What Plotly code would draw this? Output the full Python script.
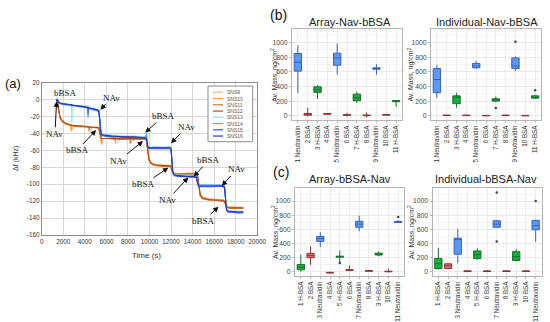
import plotly.graph_objects as go

W, H = 550, 322

# ---------------- Panel (a) data ----------------
t_orange = [1350, 1450, 1520, 1600, 1700,
            1850, 2000, 2200, 2500, 2700,
            2720, 2740, 3000, 3500, 4000,
            4380, 4400, 4420, 4800, 5200,
            5300, 5380, 5450, 5520, 5540,
            5560, 5700, 6200, 6800, 6820,
            6840, 7500, 8200, 8220, 8240,
            9000, 9650, 9720, 9800, 9880,
            9950, 10100, 10300, 10600, 11200,
            11900, 11980, 12050, 12150, 12300,
            12800, 13500, 14300, 14450, 14520,
            14600, 14700, 14900, 15500, 16300,
            16800, 16950, 17050, 17150, 17300,
            17800, 18300, 18700]

sns9 = [0, 1, -6, -16, -21,
        -24, -26, -28, -29, -30,
        -30, -38, -30, -31, -31,
        -32, -32, -36, -32, -32,
        -33, -39, -44, -45, -46,
        -54, -46, -45, -45, -45,
        -52, -45, -45, -45, -50,
        -45, -45, -47, -57, -65,
        -70, -74, -76, -77, -77,
        -78, -78, -81, -85, -87,
        -87, -87, -87, -88, -96,
        -105, -111, -115, -117, -118,
        -118, -119, -122, -126, -127,
        -127, -127, -128]
sns10 = [-1, -1, -10, -18, -22,
         -25, -27, -29, -30, -30,
         -36, -30, -31, -32, -32,
         -33, -33, -33, -33, -34,
         -34, -40, -45, -46, -52,
         -46, -46, -46, -46, -50,
         -46, -46, -46, -46, -46,
         -46, -46, -48, -58, -66,
         -71, -75, -77, -78, -78,
         -78, -79, -81, -85, -87,
         -88, -87, -87, -89, -98,
         -107, -113, -117, -118, -118,
         -119, -120, -123, -126, -127,
         -127, -128, -127]
sns11 = [-1, 0, -9, -17, -22,
         -25, -27, -28, -30, -30,
         -30, -31, -31, -32, -32,
         -32, -38, -32, -33, -33,
         -34, -40, -44, -45, -46,
         -46, -46, -46, -47, -47,
         -47, -47, -47, -52, -47,
         -47, -47, -49, -60, -68,
         -72, -75, -77, -78, -79,
         -79, -80, -83, -87, -88,
         -89, -88, -88, -90, -99,
         -108, -114, -117, -119, -119,
         -120, -121, -124, -127, -128,
         -129, -128, -129]
sns12 = [-2, 0, -8, -15, -20,
         -24, -26, -28, -29, -30,
         -30, -30, -31, -31, -32,
         -32, -32, -32, -33, -33,
         -33, -38, -43, -45, -45,
         -46, -46, -46, -46, -46,
         -46, -46, -46, -46, -46,
         -46, -46, -48, -58, -66,
         -70, -74, -76, -77, -78,
         -78, -79, -82, -86, -88,
         -88, -88, -88, -89, -97,
         -106, -112, -116, -118, -119,
         -119, -120, -123, -127, -128,
         -128, -128, -128]

t_blue = [1350, 1450, 1550, 1700, 2000,
          2500, 2780, 2800, 2820, 3200,
          3700, 4280, 4300, 4320, 4400,
          4800, 5200, 5300, 5380, 5450,
          5550, 5800, 6500, 7500, 8500,
          9400, 9650, 9720, 9780, 9850,
          10000, 10500, 11200, 11900, 12000,
          12080, 12150, 12300, 12800, 13500,
          14200, 14350, 14420, 14500, 14600,
          15000, 15800, 16600, 16950, 17020,
          17080, 17150, 17300, 17700, 18200,
          18700]

sns13 = [-1, 0, -2, -4, -5,
         -6, -6, -28, -6, -7,
         -7, -8, -8, -8, -9,
         -10, -11, -12, -22, -35,
         -40, -41, -42, -43, -43,
         -44, -44, -38, -50, -55,
         -56, -56, -56, -56, -57,
         -70, -84, -88, -89, -89,
         -89, -90, -95, -100, -101,
         -101, -101, -101, -102, -109,
         -123, -129, -131, -132, -132,
         -132]
sns14 = [-2, 1, -3, -5, -6,
         -7, -7, -8, -7, -8,
         -9, -10, -22, -10, -11,
         -12, -13, -14, -25, -38,
         -42, -43, -43, -44, -44,
         -45, -44, -40, -52, -56,
         -57, -56, -57, -56, -57,
         -71, -85, -89, -90, -90,
         -90, -91, -96, -100, -101,
         -101, -101, -101, -102, -111,
         -125, -131, -132, -133, -133,
         -132]
sns15 = [-1, 0, -2, -4, -5,
         -6, -6, -6, -6, -7,
         -8, -9, -18, -9, -10,
         -11, -12, -14, -24, -37,
         -42, -43, -44, -44, -45,
         -45, -45, -46, -53, -57,
         -58, -58, -58, -58, -59,
         -72, -85, -90, -91, -91,
         -92, -92, -97, -101, -103,
         -103, -103, -102, -104, -112,
         -125, -131, -133, -133, -134,
         -134]
sns16 = [-2, 0, -3, -4, -5,
         -6, -6, -7, -7, -7,
         -8, -9, -9, -9, -10,
         -11, -12, -13, -22, -36,
         -41, -42, -43, -44, -44,
         -45, -45, -47, -52, -56,
         -57, -57, -57, -57, -58,
         -70, -84, -89, -90, -91,
         -91, -92, -96, -101, -102,
         -102, -102, -102, -103, -110,
         -124, -130, -132, -132, -133,
         -133]

series_names = ["SNS9", "SNS10", "SNS11", "SNS12", "SNS13", "SNS14", "SNS15", "SNS16"]
series_t = [t_orange] * 4 + [t_blue] * 4
series_v = [sns9, sns10, sns11, sns12, sns13, sns14, sns15, sns16]
series_colors = ["#f7b77a", "#f39a4c", "#d9712a", "#b0501f",
                 "#86def5", "#5aa2ec", "#2f5ae8", "#2c3aa8"]

a_xticks = list(range(0, 20001, 2000))
a_yticks = list(range(-160, 21, 20))

# annotation labels (text, text position, arrow head position) in data units
ann_text = ["bBSA", "NAv", "NAv", "bBSA", "bBSA", "NAv", "NAv", "bBSA", "NAv", "bBSA", "NAv", "bBSA"]
ann_tx = [2250, 6480, 1230, 3280, 11300, 13450, 7170, 15480, 18090, 9460, 11670, 15030]
ann_ty = [7.5, 2.5, -40.5, -60, -19.5, -32.5, -72, -71.5, -82.5, -100, -118.5, -143]
ann_hx = [None, 5450, 1380, 5050, 9600, 12000, 9400, 14100, 16700, 11750, 13600, 16400]
ann_hy = [None, -12, -2, -36, -39, -51.5, -49, -91, -102, -80.5, -92, -126.5]

# ---------------- Box panels data ----------------
cats_b = ["1 Neutravidin", "2 BSA", "3 H-BSA", "4 BSA", "5 Neutravidin", "6 BSA",
          "7 H-BSA", "8 BSA", "9 Neutravidin", "10 BSA", "11 H-BSA"]
cats_c = ["1 H-BSA", "2 BSA", "3 Neutravidin", "4 BSA", "5 H-BSA", "6 BSA",
          "7 Neutravidin", "8 BSA", "9 H-BSA", "10 BSA", "11 Neutravidin"]

# Array-Nav-bBSA
b1_lo = [310, -10, 230, 18, 560, -10, 175, -25, 560, 5, 120]
b1_q1 = [610, 8, 320, 22, 690, 6, 205, 1, 636, 9, 192]
b1_md = [730, 20, 355, 26, 790, 10, 245, 5, 645, 12, 200]
b1_q3 = [850, 32, 395, 30, 855, 15, 295, 9, 654, 16, 207]
b1_hi = [960, 110, 420, 34, 990, 40, 330, 45, 705, 25, 215]
b1_out_x = []
b1_out_y = []

# Individual-Nav-bBSA
b2_lo = [245, -2, 110, -2, 640, -3, 185, -2, 610, -3, 230]
b2_q1 = [316, 2, 165, 2, 655, 0, 200, 2, 645, 0, 240]
b2_md = [495, 5, 255, 5, 680, 2, 218, 5, 680, 2, 255]
b2_q3 = [645, 8, 272, 8, 715, 5, 232, 8, 790, 5, 272]
b2_hi = [690, 12, 310, 12, 745, 8, 265, 12, 810, 8, 285]
b2_out_x = ["7 H-BSA", "9 Neutravidin", "11 H-BSA"]
b2_out_y = [107, 1010, 350]

# Array-bBSA-Nav
c1_lo = [5, 100, 350, -25, 130, 10, 575, 2, 220, -5, 690]
c1_q1 = [30, 200, 430, -15, 208, 22, 630, 10, 238, 2, 698]
c1_md = [65, 230, 470, -10, 215, 27, 675, 14, 252, 5, 706]
c1_q3 = [105, 262, 500, -6, 222, 32, 715, 18, 265, 9, 714]
c1_hi = [245, 360, 560, 0, 300, 90, 795, 25, 290, 48, 730]
c1_out_x = ["11 Neutravidin", "5 H-BSA"]
c1_out_y = [776, 125]

# Individual-bBSA-Nav
c2_lo = [30, 40, 120, 0, 170, 0, 620, 0, 150, 0, 425]
c2_q1 = [48, 48, 250, 5, 190, 5, 630, 5, 162, 5, 595]
c2_md = [115, 86, 460, 10, 245, 10, 675, 10, 215, 10, 655]
c2_q3 = [190, 114, 476, 14, 295, 14, 722, 14, 286, 14, 728]
c2_hi = [340, 120, 610, 20, 335, 18, 730, 18, 320, 18, 735]
c2_out_x = ["7 Neutravidin", "7 Neutravidin", "11 Neutravidin"]
c2_out_y = [1120, 430, 1000]

box_titles = ["Array-Nav-bBSA", "Individual-Nav-bBSA", "Array-bBSA-Nav", "Individual-bBSA-Nav"]
mass_ticks = [0, 200, 400, 600, 800, 1000]

# ---------------- Figure ----------------
fig = go.Figure()

def px(x):
    return x / W

def py(y):
    return 1 - y / H

# panel (a) lines
for name, t, v, c in zip(series_names, series_t, series_v, series_colors):
    fig.add_trace(go.Scatter(x=t, y=v, mode="lines", name=name,
                             line=dict(color=c, width=1.1),
                             xaxis="x", yaxis="y", showlegend=False, hoverinfo="skip"))

# box panels
group_style = {
    "Neutravidin": dict(fill="#5c97f2", line="#3b62b5"),
    "H-BSA": dict(fill="#19ad3e", line="#17702c"),
    "BSA": dict(fill="#e0706c", line="#8e3434"),
}

def group_of(cat):
    return cat.split(" ", 1)[1]

panels = [
    (cats_b, b1_lo, b1_q1, b1_md, b1_q3, b1_hi, b1_out_x, b1_out_y, "x2", "y2"),
    (cats_b, b2_lo, b2_q1, b2_md, b2_q3, b2_hi, b2_out_x, b2_out_y, "x3", "y3"),
    (cats_c, c1_lo, c1_q1, c1_md, c1_q3, c1_hi, c1_out_x, c1_out_y, "x4", "y4"),
    (cats_c, c2_lo, c2_q1, c2_md, c2_q3, c2_hi, c2_out_x, c2_out_y, "x5", "y5"),
]

for cats, lo, q1, md, q3, hi, ox, oy, xa, ya in panels:
    for g, st in group_style.items():
        idx = [i for i, c in enumerate(cats) if group_of(c) == g]
        fig.add_trace(go.Box(
            x=[cats[i] for i in idx],
            lowerfence=[lo[i] for i in idx], q1=[q1[i] for i in idx],
            median=[md[i] for i in idx], q3=[q3[i] for i in idx],
            upperfence=[hi[i] for i in idx],
            fillcolor=st["fill"], line=dict(color=st["line"], width=1),
            width=0.75, whiskerwidth=0, boxpoints=False,
            xaxis=xa, yaxis=ya, showlegend=False, hoverinfo="skip"))
    if ox:
        fig.add_trace(go.Scatter(x=ox, y=oy, mode="markers",
                                 marker=dict(size=2.5, color="#444444"),
                                 xaxis=xa, yaxis=ya, showlegend=False, hoverinfo="skip"))

layout = dict(
    width=W, height=H, autosize=False,
    margin=dict(l=0, r=0, t=0, b=0, pad=0, autoexpand=False),
    paper_bgcolor="white", plot_bgcolor="white",
    boxmode="overlay",
    showlegend=False,
)

# (a) axes
layout["xaxis"] = dict(domain=[px(41.7), px(257.3)], range=[0, 20000], anchor="y", automargin=False,
                       tickvals=a_xticks, ticktext=[str(v) for v in a_xticks],
                       tickfont=dict(family="Liberation Sans, Arial", size=6.3, color="#333333"),
                       showgrid=True, gridcolor="#d6d6d6", gridwidth=0.8,
                       showline=True, mirror=True, linecolor="#8c8c8c", linewidth=1,
                       zeroline=False, ticks="")
layout["yaxis"] = dict(domain=[py(235), py(82.7)], range=[-160, 20], anchor="x", automargin=False,
                       tickvals=a_yticks, ticktext=[str(v) for v in a_yticks],
                       tickfont=dict(family="Liberation Sans, Arial", size=6.3, color="#333333"),
                       showgrid=True, gridcolor="#d6d6d6", gridwidth=0.8,
                       showline=True, mirror=True, linecolor="#8c8c8c", linewidth=1,
                       zeroline=False, ticks="")

box_domains = [
    ([292, 402], [29, 120]),
    ([431, 541], [29, 120]),
    ([295, 404], [188, 276]),
    ([432.5, 541.5], [188, 276]),
]
for k, ((x0, x1), (y0, y1)) in enumerate(box_domains):
    n = k + 2
    cats = cats_b if k < 2 else cats_c
    layout[f"xaxis{n}"] = dict(domain=[px(x0), px(x1)], anchor=f"y{n}", type="category", automargin=False,
                               categoryorder="array", categoryarray=cats,
                               range=[-0.6, 10.6], tickangle=-90,
                               tickfont=dict(family="Liberation Sans, Arial", size=6.3, color="#333333"),
                               showgrid=True, gridcolor="#ececec", gridwidth=0.8,
                               showline=True, mirror=True, linecolor="#b5b5b5", linewidth=1,
                               ticks="outside", ticklen=2, tickcolor="#b5b5b5", zeroline=False)
    layout[f"yaxis{n}"] = dict(domain=[py(y1), py(y0)], anchor=f"x{n}", range=[-58, 1185], automargin=False,
                               tickvals=mass_ticks,
                               tickfont=dict(family="Liberation Sans, Arial", size=6.8, color="#444444"),
                               showgrid=True, gridcolor="#e8e8e8", gridwidth=0.8,
                               minor=dict(dtick=100, tick0=0, showgrid=True, gridcolor="#f4f4f4", gridwidth=0.5),
                               showline=True, mirror=True, linecolor="#b5b5b5", linewidth=1,
                               ticks="outside", ticklen=2, tickcolor="#b5b5b5", zeroline=False)

annotations = []
shapes = []

serif = dict(family="Liberation Serif, Times New Roman", size=9, color="#111111")

# panel (a) arrows and labels
for txt, tx, ty, hx, hy in zip(ann_text, ann_tx, ann_ty, ann_hx, ann_hy):
    if hx is None:
        annotations.append(dict(x=tx, y=ty, xref="x", yref="y", text=txt, showarrow=False,
                                xanchor="center", yanchor="middle", font=serif))
    else:
        annotations.append(dict(x=hx, y=hy, ax=tx, ay=ty, xref="x", yref="y", axref="x", ayref="y",
                                text=txt, showarrow=True, arrowhead=2, arrowsize=1.1, arrowwidth=1,
                                arrowcolor="#111111", standoff=0, font=serif))

def label(x, y, text, size, color="#333333", angle=0, family="Liberation Sans, Arial"):
    annotations.append(dict(x=px(x), y=py(y), xref="paper", yref="paper", text=text, showarrow=False,
                            xanchor="center", yanchor="middle", textangle=angle,
                            font=dict(family=family, size=size, color=color)))

# (a) axis titles and panel label
label(146, 256, "Time (s)", 8)
label(16, 159, "Δf (kHz)", 7, angle=-90)
label(13, 83, "(a)", 13, color="#111111")

# custom legend for (a)
lx0, lx1, ly0, ly1 = 208, 252.7, 86, 141.7
shapes.append(dict(type="rect", xref="paper", yref="paper", x0=px(lx0), x1=px(lx1), y0=py(ly1), y1=py(ly0),
                   line=dict(color="#8c8c8c", width=1), fillcolor="white", layer="above"))
for i, (name, c) in enumerate(zip(series_names, series_colors)):
    yy = 92.3 + i * 6.25
    shapes.append(dict(type="line", xref="paper", yref="paper", x0=px(213), x1=px(223), y0=py(yy), y1=py(yy),
                       line=dict(color=c, width=1.2), layer="above"))
    annotations.append(dict(x=px(225), y=py(yy), xref="paper", yref="paper", text=name, showarrow=False,
                            xanchor="left", yanchor="middle",
                            font=dict(family="Liberation Sans, Arial", size=5, color="#555555")))

# box panel titles, y-titles and labels
title_pos = [(350, 21.7), (486.5, 21.7), (350, 179.3), (486, 179.3)]
ylab_pos = [(274, 75), (410.5, 75), (275, 232), (411, 232)]
for t, (tx, ty), (lx, ly) in zip(box_titles, title_pos, ylab_pos):
    label(tx, ty, t, 11, color="#222222")
    label(lx, ly, "Av. Mass, ng/cm<sup>2</sup>", 7, angle=-90)
label(278, 15, "(b)", 14, color="#111111")
label(281, 172, "(c)", 14, color="#111111")

layout["annotations"] = annotations
layout["shapes"] = shapes
fig.update_layout(**layout)

fig.write_html("out.html", config={"displayModeBar": False},
               post_script="document.body.style.margin='0px';document.body.style.overflow='hidden';")
